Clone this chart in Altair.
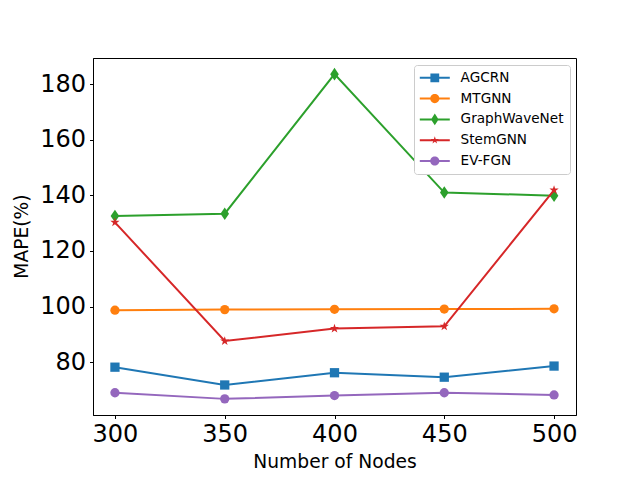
import altair as alt
import pandas as pd

nodes = [300, 350, 400, 450, 500]
series = ["AGCRN", "MTGNN", "GraphWaveNet", "StemGNN", "EV-FGN"]
agcrn = [78.2, 71.8, 76.2, 74.6, 78.6]
mtgnn = [98.7, 98.9, 99.0, 99.1, 99.2]
graphwavenet = [132.6, 133.4, 183.6, 141.0, 139.9]
stemgnn = [130.3, 87.6, 92.1, 92.9, 141.9]
evfgn = [69.0, 66.8, 68.0, 69.0, 68.2]
colors = ["#1f77b4", "#ff7f0e", "#2ca02c", "#d62728", "#9467bd"]

# marker shapes in the plot (unit box -1..1)
star = ("M0,-1L0.225,-0.309L0.951,-0.309L0.363,0.118L0.588,0.809L0,0.382"
        "L-0.588,0.809L-0.363,0.118L-0.951,-0.309L-0.225,-0.309Z")
thin_diamond = "M0,-1.26L0.86,0L0,1.26L-0.86,0Z"
plot_shapes = ["square", "circle", thin_diamond, star, "circle"]
plot_sizes = [86, 86, 100, 95, 86]

# legend symbols: a short line with the marker on it (marker centred at x=2)
line_seg = "M-1.75,-0.25H5.75V0.25H-1.75Z"
leg_square = "M0.9,-1.1H3.1V1.1H0.9Z"
leg_circle = "M3.15,0A1.15,1.15 0 1,1 0.85,0A1.15,1.15 0 1,1 3.15,0Z"
leg_diamond = "M2,-1.45L2.95,0L2,1.45L1.05,0Z"
leg_star = ("M2,-1L2.225,-0.309L2.951,-0.309L2.363,0.118L2.588,0.809L2,0.382"
            "L1.412,0.809L1.637,0.118L1.049,-0.309L1.775,-0.309Z")
legend_shapes = [line_seg + leg_square, line_seg + leg_circle, line_seg + leg_diamond,
                 line_seg + leg_star, line_seg + leg_circle]

rows = []
for name, vals in zip(series, [agcrn, mtgnn, graphwavenet, stemgnn, evfgn]):
    for n, v in zip(nodes, vals):
        rows.append({"nodes": n, "mape": v, "model": name})
df = pd.DataFrame(rows)

FONT = "DejaVu Sans"

x = alt.X("nodes:Q", scale=alt.Scale(domain=[290, 510], nice=False, zero=False),
          axis=alt.Axis(values=[300, 350, 400, 450, 500], title="Number of Nodes",
                        labelFontSize=24, titleFontSize=18.7, labelFont=FONT, titleFont=FONT,
                        titleFontWeight="normal", tickSize=3.5, labelPadding=4,
                        titleY=46, titleBaseline="middle", grid=False,
                        domainColor="black", tickColor="black", labelColor="black",
                        titleColor="black", labelFlush=False))
y = alt.Y("mape:Q", scale=alt.Scale(domain=[61.0, 189.4], nice=False, zero=False),
          axis=alt.Axis(values=[80, 100, 120, 140, 160, 180], title="MAPE(%)",
                        labelFontSize=24, titleFontSize=18.7, labelFont=FONT, titleFont=FONT,
                        titleFontWeight="normal", tickSize=3.5, labelPadding=4,
                        titleX=-72, titleY=178, titleAngle=-90, titleAlign="center",
                        titleBaseline="middle", grid=False,
                        domainColor="black", tickColor="black", labelColor="black",
                        titleColor="black", labelFlush=False))

layers = []
for i, name in enumerate(series):
    base = alt.Chart(df).transform_filter(alt.datum.model == name)
    layers.append(base.mark_line(strokeWidth=2, color=colors[i]).encode(x=x, y=y))
    layers.append(base.mark_point(filled=True, opacity=1, size=plot_sizes[i],
                                  shape=plot_shapes[i], color=colors[i], strokeWidth=0)
                  .encode(x=x, y=y))

leg = alt.Legend(title=None, orient="none", legendX=321, legendY=7, direction="vertical",
                 labelFontSize=13.6, labelFont=FONT, labelColor="black",
                 symbolSize=64, rowPadding=5.8, padding=6,
                 strokeColor="#cccccc", fillColor="white", cornerRadius=3,
                 symbolStrokeWidth=0, symbolOpacity=1, labelOffset=27)

legend_layer = alt.Chart(df).transform_filter("datum.nodes < 0").mark_point(
    filled=True, opacity=1, size=64).encode(
    x=x, y=y,
    color=alt.Color("model:N", scale=alt.Scale(domain=series, range=colors), legend=leg),
    shape=alt.Shape("model:N", scale=alt.Scale(domain=series, range=legend_shapes), legend=leg),
)
layers.append(legend_layer)

chart = alt.layer(*layers).properties(
    width=483, height=357, autosize="none",
    padding={"left": 85, "top": 50, "right": 56, "bottom": 57},
    background="white",
).configure_view(stroke="black", strokeWidth=1)

chart.save("out.html", embed_options={"renderer": "svg", "actions": False})
